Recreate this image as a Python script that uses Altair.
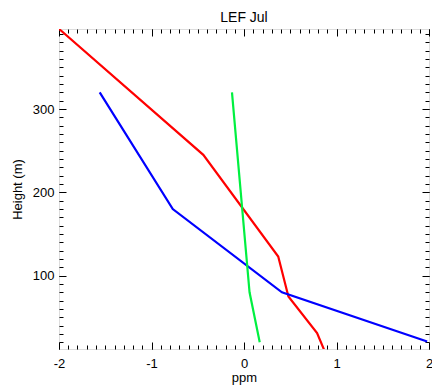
import altair as alt
import pandas as pd

# ---- data ----
red_x = [-2.04, -0.44, 0.37, 0.48, 0.79, 0.87]
red_y = [400, 245, 123, 75, 31, 10]
blue_x = [-1.56, -0.77, 0.41, 1.98]
blue_y = [320, 180, 80, 21]
green_x = [-0.13, 0.06, 0.17]
green_y = [320, 80, 20]

series_names = ["red", "blue", "green"]
series_colors = ["#FF0000", "#0000FF", "#00F040"]

x_major = [-2, -1, 0, 1, 2]
x_minor = [round(-2 + 0.1 * i, 1) for i in range(41)]
y_major = [100, 200, 300]
y_minor = list(range(20, 400, 10))

x_domain = [-2, 2]
y_domain = [12, 396]

rows = []
for name, xs, ys in zip(series_names, [red_x, blue_x, green_x], [red_y, blue_y, green_y]):
    for i, (xv, yv) in enumerate(zip(xs, ys)):
        rows.append({"series": name, "x": xv, "y": yv, "idx": i})
df = pd.DataFrame(rows)

FONT = "Liberation Sans"
xscale = alt.Scale(domain=x_domain, nice=False, zero=False)
yscale = alt.Scale(domain=y_domain, nice=False, zero=False)

lines = alt.Chart(df).mark_line(strokeWidth=2.2, clip=True).encode(
    x=alt.X("x:Q", scale=xscale,
            axis=alt.Axis(orient="bottom", values=x_major, ticks=False, tickSize=0, domain=False,
                          grid=False, labelPadding=8, labelFontSize=13, labelFont=FONT,
                          labelColor="black", labelFlush=False, labelExpr="'' + datum.value",
                          title="ppm", titleFont=FONT,
                          titleFontSize=13, titleFontWeight="normal", titleColor="black",
                          titlePadding=1)),
    y=alt.Y("y:Q", scale=yscale,
            axis=alt.Axis(orient="left", values=y_major, ticks=False, tickSize=0, domain=False,
                          grid=False, labelPadding=5, labelFontSize=13, labelFont=FONT,
                          labelColor="black", labelFlush=False, title="Height (m)",
                          titleFont=FONT, titleFontSize=13, titleFontWeight="normal",
                          titleColor="black", titlePadding=8)),
    color=alt.Color("series:N", scale=alt.Scale(domain=series_names, range=series_colors),
                    legend=None),
    order=alt.Order("idx:Q"),
    detail="series:N",
)


def tick_layer(xorient, yorient, xvals, yvals, size):
    return alt.Chart(df).mark_point(opacity=0).encode(
        x=alt.X("x:Q", scale=xscale,
                axis=alt.Axis(orient=xorient, values=xvals, tickSize=size, offset=-size,
                              labels=False, domain=False, grid=False, title=None,
                              tickColor="black", tickWidth=1)),
        y=alt.Y("y:Q", scale=yscale,
                axis=alt.Axis(orient=yorient, values=yvals, tickSize=size, offset=-size,
                              labels=False, domain=False, grid=False, title=None,
                              tickColor="black", tickWidth=1)),
    )


chart = alt.layer(
    lines,
    tick_layer("bottom", "left", x_major, y_major, 7),
    tick_layer("bottom", "left", x_minor, y_minor, 4),
    tick_layer("top", "right", x_major, y_major, 7),
    tick_layer("top", "right", x_minor, y_minor, 4),
).resolve_axis(x="independent", y="independent").properties(
    width=370,
    height=320,
    title=alt.TitleParams("LEF Jul", font=FONT, fontSize=14, fontWeight="normal",
                          color="black", anchor="middle", offset=-2),
    autosize=alt.AutoSizeParams(type="none"),
    padding={"left": 59, "top": 29, "right": 3, "bottom": 38},
).configure_view(stroke="black", strokeWidth=1.2).configure(background="white")

chart.save("out.html", embed_options={"renderer": "svg", "actions": False})
